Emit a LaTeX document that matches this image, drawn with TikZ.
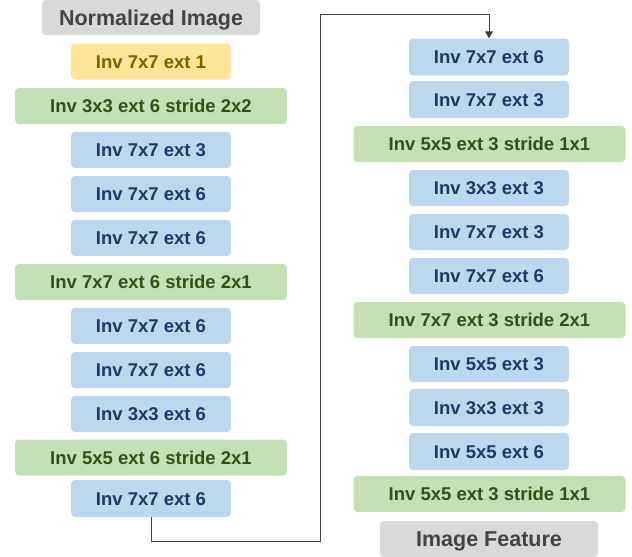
\documentclass[tikz,border=0pt]{standalone}
\usepackage{fontspec}
\setmainfont{Liberation Sans}
\usetikzlibrary{arrows.meta}
\definecolor{bluefill}{HTML}{BDD7EE}
\definecolor{bluetext}{HTML}{1F3864}
\definecolor{greenfill}{HTML}{C5E0B4}
\definecolor{greentext}{HTML}{325017}
\definecolor{yellowfill}{HTML}{FFE599}
\definecolor{yellowtext}{HTML}{7F6000}
\definecolor{grayfill}{HTML}{D9D9D9}
\definecolor{graytext}{HTML}{434343}
\definecolor{wire}{HTML}{404040}
\tikzset{
  layer/.style={rounded corners=4pt, inner sep=0pt, minimum height=36pt,
    text height=13.2pt, text depth=0pt,
    font=\fontsize{18.5}{21}\selectfont\bfseries},
  inv/.style={layer, fill=bluefill, text=bluetext, minimum width=160pt},
  invfirst/.style={layer, fill=yellowfill, text=yellowtext, minimum width=160pt},
  stride/.style={layer, fill=greenfill, text=greentext, minimum width=272pt},
  io/.style={layer, fill=grayfill, text=graytext, minimum width=218pt,
    text height=15.4pt, font=\fontsize{21.5}{25}\selectfont\bfseries},
  link/.style={draw=wire, line width=0.9pt, -{Triangle[length=7pt,width=8pt]}}
}
\begin{document}
\begin{tikzpicture}[x=1pt,y=-1pt]
\useasboundingbox (0,0) rectangle (632,557);
% left column
\node[io, minimum height=35pt] (l1) at (151,17.5) {Normalized Image};
\node[invfirst] (l2) at (151,61.5) {Inv 7x7 ext 1};
\node[stride] (l3) at (151,106) {Inv 3x3 ext 6 stride 2x2};
\node[inv] (l4) at (151,150) {Inv 7x7 ext 3};
\node[inv] (l5) at (151,194) {Inv 7x7 ext 6};
\node[inv] (l6) at (151,238) {Inv 7x7 ext 6};
\node[stride] (l7) at (151,282) {Inv 7x7 ext 6 stride 2x1};
\node[inv] (l8) at (151,326) {Inv 7x7 ext 6};
\node[inv] (l9) at (151,370) {Inv 7x7 ext 6};
\node[inv] (l10) at (151,414) {Inv 3x3 ext 6};
\node[stride] (l11) at (151,457.5) {Inv 5x5 ext 6 stride 2x1};
\node[inv, minimum height=37pt] (l12) at (151,498.5) {Inv 7x7 ext 6};
% right column
\node[inv, minimum height=37pt] (r1) at (489,57) {Inv 7x7 ext 6};
\node[inv, minimum height=37pt] (r2) at (489,99.5) {Inv 7x7 ext 3};
\node[stride] (r3) at (489.5,144) {Inv 5x5 ext 3 stride 1x1};
\node[inv] (r4) at (489,188) {Inv 3x3 ext 3};
\node[inv] (r5) at (489,232) {Inv 7x7 ext 3};
\node[inv] (r6) at (489,276) {Inv 7x7 ext 6};
\node[stride] (r7) at (489.5,320) {Inv 7x7 ext 3 stride 2x1};
\node[inv] (r8) at (489,364) {Inv 5x5 ext 3};
\node[inv, minimum height=37pt] (r9) at (489,407.5) {Inv 3x3 ext 3};
\node[inv, minimum height=37pt] (r10) at (489,451.5) {Inv 5x5 ext 6};
\node[stride] (r11) at (489.5,494) {Inv 5x5 ext 3 stride 1x1};
\node[io, minimum height=36pt] (r12) at (489,539) {Image Feature};
% connector between the two columns
\coordinate (bend1) at (320.5,541.5);
\coordinate (bend2) at (320.5,14);
\draw[link] (l12.south) |- (bend1) -- (bend2) -| (r1.north);
\end{tikzpicture}
\end{document}
